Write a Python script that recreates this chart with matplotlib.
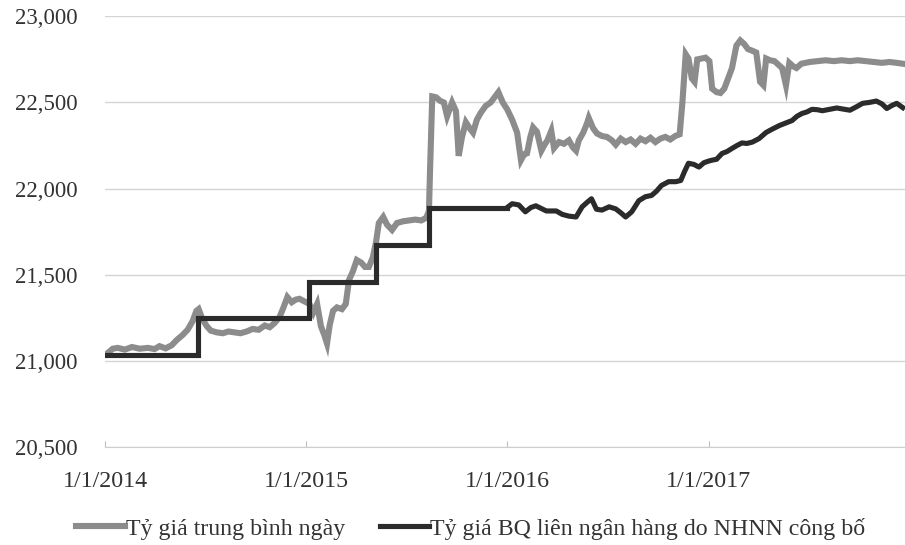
import matplotlib
matplotlib.use("Agg")
import matplotlib.pyplot as plt
import pandas as pd

plt.rcParams["font.family"] = ["Liberation Serif", "DejaVu Serif"]

# --- Tỷ giá trung bình ngày (đường xám) ---
avg_dates = [
    "2014-01-06", "2014-01-15", "2014-01-24", "2014-02-06", "2014-02-19", "2014-03-05",
    "2014-03-20", "2014-04-01", "2014-04-10", "2014-04-21", "2014-05-02", "2014-05-11",
    "2014-05-22", "2014-05-31", "2014-06-09", "2014-06-16", "2014-06-20", "2014-06-27",
    "2014-07-05", "2014-07-12", "2014-07-23", "2014-08-03", "2014-08-13", "2014-08-24",
    "2014-09-04", "2014-09-15", "2014-09-26", "2014-10-07", "2014-10-18", "2014-10-27",
    "2014-11-05", "2014-11-14", "2014-11-21", "2014-11-28", "2014-12-06", "2014-12-13",
    "2014-12-20", "2014-12-29", "2015-01-07", "2015-01-14", "2015-01-21", "2015-01-28",
    "2015-02-03", "2015-02-08", "2015-02-13", "2015-02-19", "2015-02-26", "2015-03-07",
    "2015-03-14", "2015-03-20", "2015-03-27", "2015-04-03", "2015-04-11", "2015-04-18",
    "2015-04-25", "2015-05-02", "2015-05-08", "2015-05-13", "2015-05-21", "2015-05-28",
    "2015-06-06", "2015-06-15", "2015-06-26", "2015-07-07", "2015-07-18", "2015-07-29",
    "2015-08-07", "2015-08-12", "2015-08-14", "2015-08-18", "2015-08-25", "2015-09-01",
    "2015-09-08", "2015-09-14", "2015-09-23", "2015-09-30", "2015-10-05", "2015-10-11",
    "2015-10-18", "2015-10-25", "2015-10-31", "2015-11-07", "2015-11-14", "2015-11-23",
    "2015-12-02", "2015-12-09", "2015-12-16", "2015-12-24", "2016-01-01", "2016-01-10",
    "2016-01-19", "2016-01-26", "2016-02-01", "2016-02-06", "2016-02-12", "2016-02-17",
    "2016-02-24", "2016-03-03", "2016-03-08", "2016-03-14", "2016-03-21", "2016-03-26",
    "2016-04-04", "2016-04-13", "2016-04-22", "2016-04-29", "2016-05-05", "2016-05-10",
    "2016-05-18", "2016-05-25", "2016-05-28", "2016-06-05", "2016-06-12", "2016-06-21",
    "2016-06-30", "2016-07-09", "2016-07-16", "2016-07-25", "2016-08-03", "2016-08-12",
    "2016-08-21", "2016-08-30", "2016-09-08", "2016-09-17", "2016-09-26", "2016-10-05",
    "2016-10-14", "2016-10-23", "2016-11-01", "2016-11-09", "2016-11-14", "2016-11-20",
    "2016-11-25", "2016-12-01", "2016-12-06", "2016-12-11", "2016-12-19", "2016-12-26",
    "2017-01-02", "2017-01-07", "2017-01-15", "2017-01-22", "2017-01-29", "2017-02-05",
    "2017-02-12", "2017-02-20", "2017-02-27", "2017-03-06", "2017-03-13", "2017-03-21",
    "2017-03-28", "2017-04-04", "2017-04-10", "2017-04-15", "2017-04-22", "2017-04-30",
    "2017-05-07", "2017-05-14", "2017-05-21", "2017-05-27", "2017-06-03", "2017-06-09",
    "2017-06-18", "2017-07-03", "2017-07-17", "2017-08-01", "2017-08-16", "2017-08-30",
    "2017-09-14", "2017-09-28", "2017-10-13", "2017-10-27", "2017-11-11", "2017-11-25",
    "2017-12-08", "2017-12-19",
]
avg_values = [
    21045, 21070, 21075, 21065, 21080, 21070,
    21075, 21068, 21085, 21072, 21090, 21120,
    21150, 21180, 21230, 21290, 21300, 21240,
    21200, 21175, 21165, 21160, 21170, 21165,
    21160, 21170, 21185, 21180, 21205, 21195,
    21220, 21255, 21310, 21370, 21340, 21355,
    21360, 21345, 21330, 21280, 21330, 21200,
    21150, 21100, 21210, 21290, 21310, 21300,
    21330, 21470, 21520, 21585, 21570, 21545,
    21545, 21600, 21690, 21800, 21835, 21790,
    21760, 21800, 21810, 21815, 21820, 21815,
    21830, 21870, 22110, 22535, 22530, 22510,
    22500, 22420, 22500, 22450, 22190, 22300,
    22385, 22350, 22325, 22400, 22440, 22480,
    22500, 22530, 22560, 22500, 22460, 22400,
    22325, 22165, 22200, 22205, 22300, 22355,
    22330, 22220, 22250, 22280, 22335, 22235,
    22270, 22260, 22280, 22240, 22220, 22280,
    22325, 22380, 22410, 22350, 22320, 22305,
    22300, 22280, 22255, 22290, 22270, 22285,
    22260, 22290, 22275, 22295, 22270, 22290,
    22300, 22285, 22305, 22315, 22500, 22780,
    22755, 22640, 22620, 22750, 22755, 22760,
    22740, 22580, 22560, 22555, 22580, 22640,
    22700, 22830, 22860, 22840, 22810, 22800,
    22790, 22620, 22600, 22755, 22745, 22740,
    22720, 22700, 22600, 22730, 22710, 22700,
    22725, 22735, 22740, 22745, 22740, 22745,
    22740, 22745, 22740, 22735, 22730, 22735,
    22730, 22725,
]

# --- Tỷ giá BQ liên ngân hàng (đường đen) ---
# giai đoạn 2014-2015: điều chỉnh theo bậc
step_dates = ["2014-01-01", "2014-06-18", "2015-01-07", "2015-05-07", "2015-08-12", "2016-01-01"]
step_values = [21036, 21246, 21458, 21673, 21890, 21890]
# từ 2016: tỷ giá trung tâm công bố hằng ngày
central_dates = [
    "2016-01-01", "2016-01-10", "2016-01-22", "2016-02-03", "2016-02-13", "2016-02-22",
    "2016-03-12", "2016-03-30", "2016-04-10", "2016-04-22", "2016-05-05", "2016-05-16",
    "2016-05-25", "2016-06-02", "2016-06-11", "2016-06-21", "2016-07-04", "2016-07-16",
    "2016-07-25", "2016-08-03", "2016-08-14", "2016-08-27", "2016-09-08", "2016-09-19",
    "2016-09-28", "2016-10-07", "2016-10-20", "2016-11-02", "2016-11-11", "2016-11-18",
    "2016-11-25", "2016-12-05", "2016-12-14", "2016-12-23", "2017-01-01", "2017-01-07",
    "2017-01-15", "2017-01-25", "2017-02-03", "2017-02-12", "2017-02-21", "2017-03-02",
    "2017-03-11", "2017-03-21", "2017-04-02", "2017-04-15", "2017-04-26", "2017-05-09",
    "2017-05-20", "2017-06-01", "2017-06-10", "2017-06-19", "2017-06-28", "2017-07-07",
    "2017-07-17", "2017-07-26", "2017-08-08", "2017-08-21", "2017-09-01", "2017-09-14",
    "2017-09-26", "2017-10-07", "2017-10-19", "2017-11-01", "2017-11-11", "2017-11-20",
    "2017-11-29", "2017-12-08", "2017-12-19",
]
central_values = [
    21890, 21912, 21905, 21865, 21890, 21900,
    21870, 21870, 21850, 21840, 21835, 21894,
    21920, 21941, 21880, 21875, 21894, 21882,
    21860, 21835, 21865, 21930, 21953, 21960,
    21985, 22018, 22040, 22040, 22047, 22100,
    22147, 22140, 22125, 22150, 22160, 22165,
    22170, 22204, 22215, 22233, 22250, 22265,
    22262, 22270, 22290, 22326, 22345, 22366,
    22380, 22395, 22420, 22436, 22445, 22460,
    22458, 22452, 22460, 22468, 22462, 22455,
    22475, 22495, 22500, 22508, 22492, 22465,
    22482, 22495, 22470,
]

yticks = [20500, 21000, 21500, 22000, 22500, 23000]
ytick_labels = ["20,500", "21,000", "21,500", "22,000", "22,500", "23,000"]
xticks = ["2014-01-01", "2015-01-01", "2016-01-01", "2017-01-01"]
xtick_labels = ["1/1/2014", "1/1/2015", "1/1/2016", "1/1/2017"]

GRAY = "#8c8c8c"
BLACK = "#2b2b2b"

fig = plt.figure(figsize=(9.05, 5.45), dpi=100)
ax = fig.add_axes([0.116, 0.18, 0.884, 0.79])

ax.plot(pd.to_datetime(avg_dates), avg_values, color=GRAY, lw=4.4,
        solid_joinstyle="miter", label="Tỷ giá trung bình ngày", zorder=3)
ax.plot(pd.to_datetime(step_dates), step_values, color=BLACK, lw=3.7,
        drawstyle="steps-post", solid_joinstyle="miter", zorder=4,
        label="Tỷ giá BQ liên ngân hàng do NHNN công bố")
ax.plot(pd.to_datetime(central_dates), central_values, color=BLACK, lw=3.7,
        solid_joinstyle="round", zorder=4)

ax.set_ylim(20500, 23000)
ax.set_xlim(pd.Timestamp("2014-01-01"), pd.Timestamp("2017-12-23"))
ax.set_yticks(yticks)
ax.set_yticklabels(ytick_labels)
ax.set_xticks(pd.to_datetime(xticks))
ax.set_xticklabels(xtick_labels)

ax.grid(axis="y", color="#d4d4d4", lw=1.0)
ax.set_axisbelow(True)
for side in ["left", "right", "top"]:
    ax.spines[side].set_visible(False)
ax.spines["bottom"].set_color("#cfcfcf")
ax.tick_params(axis="y", length=0, pad=20, labelsize=16.5, labelcolor="#333333")
ax.tick_params(axis="x", direction="in", length=4, color="#bdbdbd", pad=17,
               labelsize=17.3, labelcolor="#333333")

handles, labels = ax.get_legend_handles_labels()
fig.legend(handles, labels, loc="center", bbox_to_anchor=(0.52, 0.03),
           ncol=2, frameon=False, fontsize=17.2, handlelength=2.05,
           handletextpad=0.05, columnspacing=1.45, labelcolor="#333333")

fig.savefig("out.png", dpi=100, facecolor="white")
